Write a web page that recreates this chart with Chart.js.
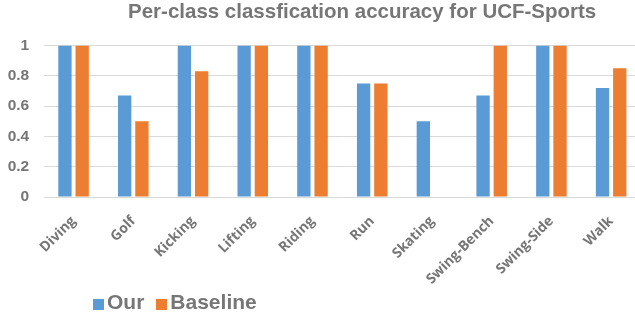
<!DOCTYPE html>
<html><head><meta charset="utf-8">
<script src="https://cdn.jsdelivr.net/npm/chart.js@4.4.0/dist/chart.umd.min.js"></script>
<style>
html,body{margin:0;padding:0;background:#fff;overflow:hidden;width:635px;height:316px;}
#wrap{position:absolute;left:0;top:0;width:641px;height:316px;}
#title{position:absolute;left:128px;top:-1px;font:bold 20.5px "Liberation Sans",Arial,sans-serif;color:#767676;white-space:nowrap;line-height:24px;}
#legend{position:absolute;left:93px;top:290px;font:bold 21px "Liberation Sans",Arial,sans-serif;color:#767676;white-space:nowrap;line-height:24px;}
#legend span.box{display:inline-block;width:11px;height:11px;margin-right:3px;vertical-align:-1px;}
#legend span.item{margin-right:12px;}
</style></head>
<body>
<div id="wrap"><canvas id="c" width="641" height="316"></canvas></div>
<div id="title"></div>
<div id="legend"></div>
<script>
const titleText = 'Per-class classfication accuracy for UCF-Sports';
const categories = ["Diving","Golf","Kicking","Lifting","Riding","Run","Skating","Swing-Bench","Swing-Side","Walk"];
const ourValues = [1, 0.67, 1, 1, 1, 0.75, 0.5, 0.67, 1, 0.72];
const baselineValues = [1, 0.5, 0.83, 1, 1, 0.75, 0, 1, 1, 0.85];
const seriesNames = ["Our", "Baseline"];
const yTicks = [0, 0.2, 0.4, 0.6, 0.8, 1];
const yTickLabels = ["0", "0.2", "0.4", "0.6", "0.8", "1"];
const colors = ["#5b9bd5", "#ed7d31"];

const chart = new Chart(document.getElementById('c'), {
  type: 'bar',
  data: {
    labels: categories,
    datasets: [
      {label: seriesNames[0], data: ourValues, backgroundColor: colors[0], categoryPercentage: 0.577, barPercentage: 0.773},
      {label: seriesNames[1], data: baselineValues, backgroundColor: colors[1], categoryPercentage: 0.577, barPercentage: 0.773}
    ]
  },
  options: {
    responsive: false,
    animation: false,
    layout: {padding: {left: 0, right: 0, top: 45.5, bottom: 0}},
    plugins: {
      legend: {display: false},
      tooltip: {enabled: false},
      title: {display: false}
    },
    scales: {
      x: {
        grid: {display: false},
        border: {display: false},
        ticks: {
          maxRotation: 45, minRotation: 45,
          color: '#767676',
          font: {family: '"Open Sans", sans-serif', size: 14, weight: 'bold'},
          padding: 8
        },
        afterFit: s => { s.height = 119; }
      },
      y: {
        min: 0, max: 1,
        afterBuildTicks: s => { s.ticks = yTicks.map(v => ({value: v})); },
        grid: {color: '#d9d9d9', lineWidth: 1, drawTicks: false},
        border: {display: false},
        ticks: {
          color: '#767676',
          padding: 14.5,
          font: {family: '"Liberation Sans", Arial, sans-serif', size: 15.5, weight: 'bold'},
          callback: (v, i) => yTickLabels[yTicks.indexOf(v)]
        },
        afterFit: s => { s.width = 43.7; }
      }
    }
  }
});

document.getElementById('title').textContent = titleText;
const lg = document.getElementById('legend');
chart.data.datasets.forEach((d) => {
  const it = document.createElement('span');
  it.className = 'item';
  const b = document.createElement('span');
  b.className = 'box';
  b.style.background = d.backgroundColor;
  it.appendChild(b);
  it.appendChild(document.createTextNode(d.label));
  lg.appendChild(it);
});
</script>
</body></html>
